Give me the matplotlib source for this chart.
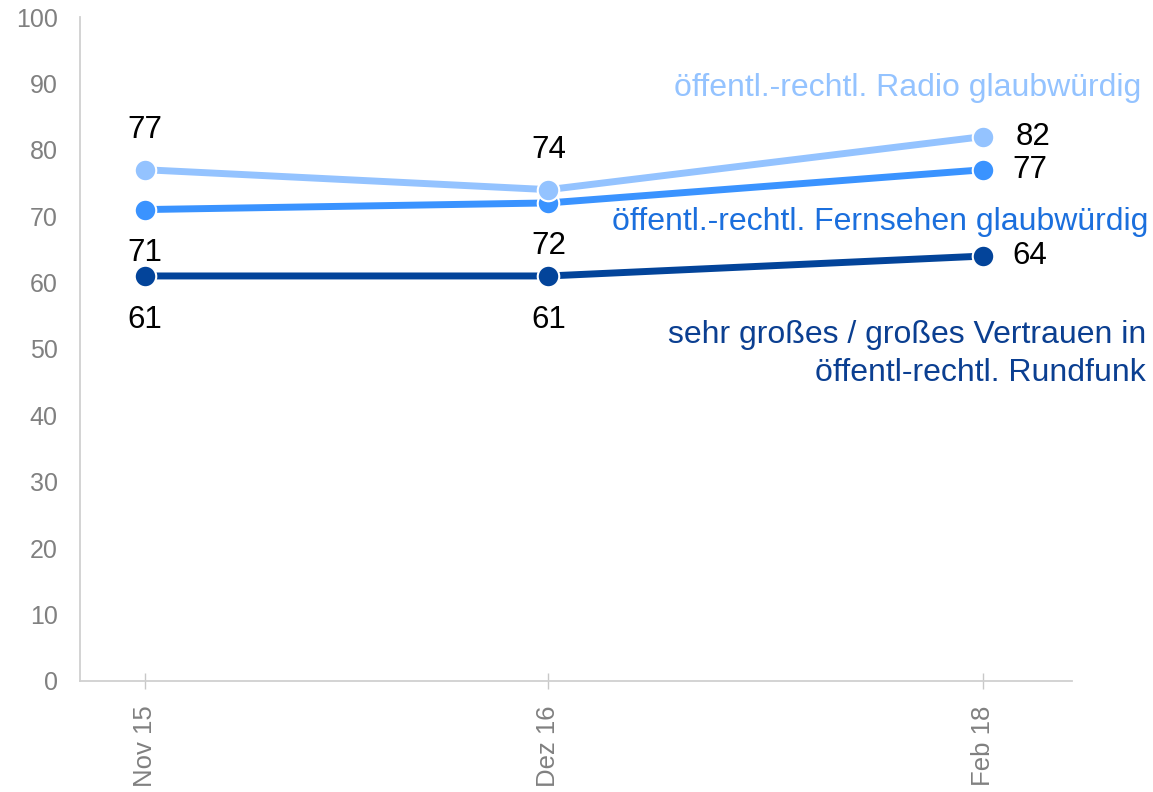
import matplotlib
matplotlib.use("Agg")
import matplotlib.pyplot as plt
import pandas as pd

plt.rcParams['font.family'] = ['Liberation Sans', 'DejaVu Sans']

categories = ["Nov 15", "Dez 16", "Feb 18"]
dates = pd.to_datetime(["2015-11-01", "2016-12-01", "2018-02-01"])
radio = [77, 74, 82]
fernsehen = [71, 72, 77]
vertrauen = [61, 61, 64]
series_names = ["öffentl.-rechtl. Radio glaubwürdig",
                "öffentl.-rechtl. Fernsehen glaubwürdig",
                "sehr großes / großes Vertrauen in\nöffentl-rechtl. Rundfunk"]

c_radio = "#94C3FF"
c_fern = "#3A93FF"
c_vert = "#03449A"
t_fern = "#1B6FDD"
t_vert = "#0B3F91"

fig = plt.figure(figsize=(11.53, 7.92), dpi=100)
ax = fig.add_axes([0.0694, 0.1402, 0.8603, 0.8383])

for vals, col, z in [(vertrauen, c_vert, 3), (fernsehen, c_fern, 4), (radio, c_radio, 5)]:
    ax.plot(dates, vals, color=col, lw=5, marker='o', ms=15.5, mfc=col,
            mec='white', mew=1.5, zorder=z, solid_capstyle='butt')

lab_kw = dict(fontsize=22.5, color='black', zorder=10, textcoords='offset points', va='center')
# Radio labels
ax.annotate(str(radio[0]), (dates[0], radio[0]), xytext=(0, 28.5), ha='center', **lab_kw)
ax.annotate(str(radio[1]), (dates[1], radio[1]), xytext=(0, 28.5), ha='center', **lab_kw)
ax.annotate(str(radio[2]), (dates[2], radio[2]), xytext=(23, 0), ha='left', **lab_kw)
# Fernsehen labels
ax.annotate(str(fernsehen[0]), (dates[0], fernsehen[0]), xytext=(0, -31), ha='center', **lab_kw)
ax.annotate(str(fernsehen[1]), (dates[1], fernsehen[1]), xytext=(0, -31), ha='center', **lab_kw)
ax.annotate(str(fernsehen[2]), (dates[2], fernsehen[2]), xytext=(21, 0), ha='left', **lab_kw)
# Vertrauen labels
ax.annotate(str(vertrauen[0]), (dates[0], vertrauen[0]), xytext=(0, -32), ha='center', **lab_kw)
ax.annotate(str(vertrauen[1]), (dates[1], vertrauen[1]), xytext=(0, -32), ha='center', **lab_kw)
ax.annotate(str(vertrauen[2]), (dates[2], vertrauen[2]), xytext=(21, 0), ha='left', **lab_kw)

# series name labels (figure coordinates)
fig.text(1141 / 1153, 1 - 88 / 792, series_names[0], color=c_radio, fontsize=23, ha='right', va='center')
fig.text(1148 / 1153, 1 - 222 / 792, series_names[1], color=t_fern, fontsize=23, ha='right', va='center')
fig.text(1146 / 1153, 1 - 354 / 792, series_names[2], color=t_vert, fontsize=23, ha='right', va='center',
         multialignment='right', linespacing=1.34)

ax.set_ylim(0, 100)
ax.set_yticks(range(0, 101, 10))
ax.set_xlim(pd.Timestamp("2015-08-29"), pd.Timestamp("2018-04-29"))
ax.set_xticks(dates)
ax.set_xticklabels(categories, rotation=90)

for s in ['top', 'right']:
    ax.spines[s].set_visible(False)
for s in ['left', 'bottom']:
    ax.spines[s].set_color('#D0D0D0')
    ax.spines[s].set_linewidth(1.3)

ax.tick_params(axis='y', length=0, pad=16, labelsize=18, labelcolor='#808080')
ax.tick_params(axis='x', direction='inout', length=11.5, width=1, color='#C8C8C8',
               pad=12, labelsize=18.5, labelcolor='#808080')

fig.savefig("out.png", dpi=100)
